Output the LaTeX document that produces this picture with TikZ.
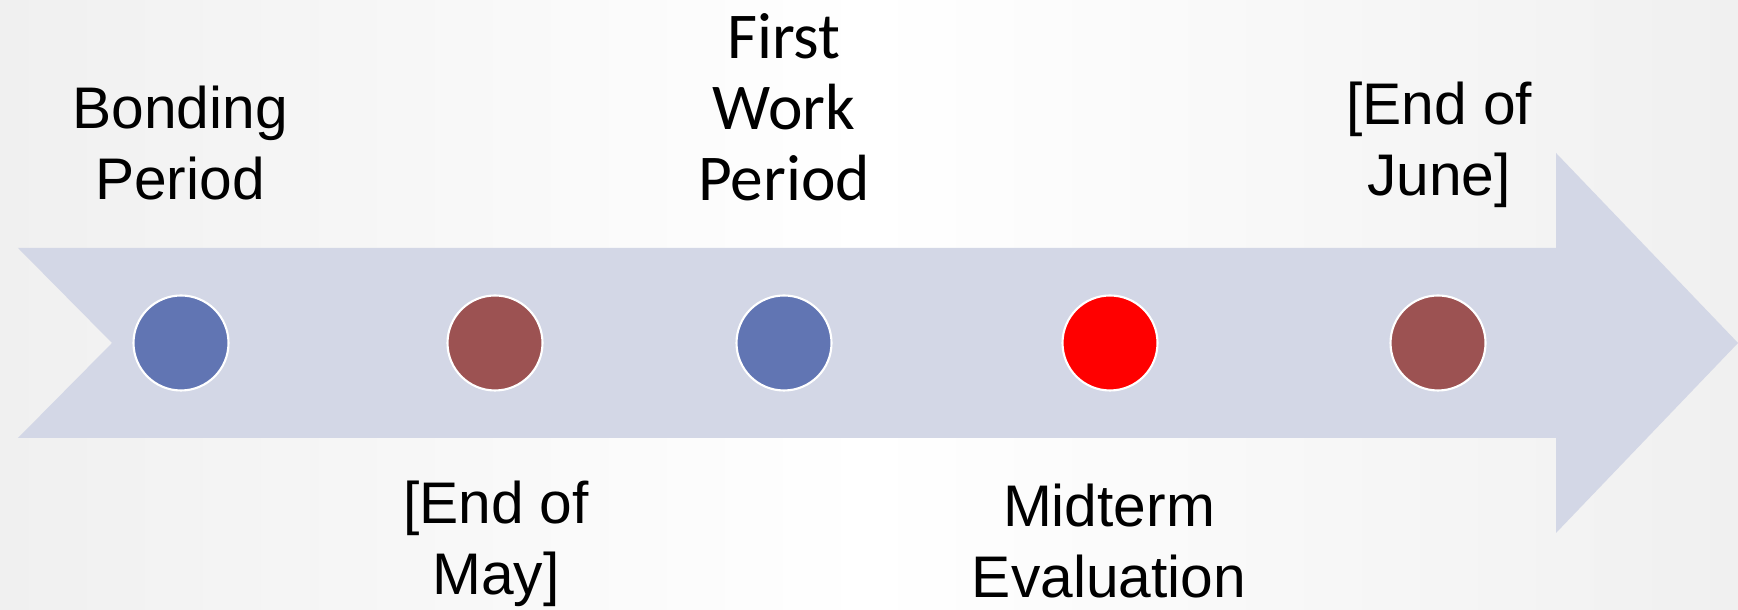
\documentclass[tikz,border=0pt]{standalone}
\usepackage{fontspec}
\setmainfont{Liberation Sans}
\newfontfamily\calfont{Carlito}
\definecolor{bgray}{RGB}{240,240,240}
\definecolor{arrowfill}{RGB}{211,215,230}
\definecolor{dotblue}{RGB}{97,117,179}
\definecolor{dotbrown}{RGB}{156,82,82}
\definecolor{dotred}{RGB}{255,0,0}
\tikzset{
  milestone/.style={circle, draw=white, line width=0.6pt, minimum size=0.95cm, inner sep=0pt},
  toplabel/.style={align=center, anchor=north, inner sep=0pt, font=\fontsize{16.7}{20.2}\selectfont},
  bottomlabel/.style={toplabel}
}
\begin{document}
\begin{tikzpicture}
              \useasboundingbox (0,0) rectangle (17.38,6.10);
              \shade[left color=bgray, right color=bgray, middle color=white] (0,0) rectangle (17.38,6.10);
              \fill[arrowfill] (0.18,3.62) -- (15.56,3.62) -- (15.56,4.57) -- (17.38,2.67) -- (15.56,0.77) -- (15.56,1.72) -- (0.18,1.72) -- (1.12,2.67) -- cycle;
              \node[milestone, fill=dotblue]  (bond)  at (1.81,2.67) {};
              \node[milestone, fill=dotbrown] (may)   at (4.95,2.67) {};
              \node[milestone, fill=dotblue]  (work)  at (7.84,2.67) {};
              \node[milestone, fill=dotred]   (mid)   at (11.10,2.67) {};
              \node[milestone, fill=dotbrown] (june)  at (14.38,2.67) {};
              \node[toplabel] (bondlbl) at (1.80,5.25) {Bonding\\Period};
              \node[toplabel, font=\calfont\fontsize{18.6}{20.2}\selectfont] (worklbl) at (7.84,5.97) {First\\Work\\Period};
              \node[toplabel] (junelbl) at (14.39,5.29) {[End of\\June]};
              \node[bottomlabel] (maylbl) at (4.96,1.30) {[End of\\May]};
              \node[bottomlabel] (midlbl) at (11.09,1.27) {Midterm\\Evaluation};
            \end{tikzpicture}
\end{document}
